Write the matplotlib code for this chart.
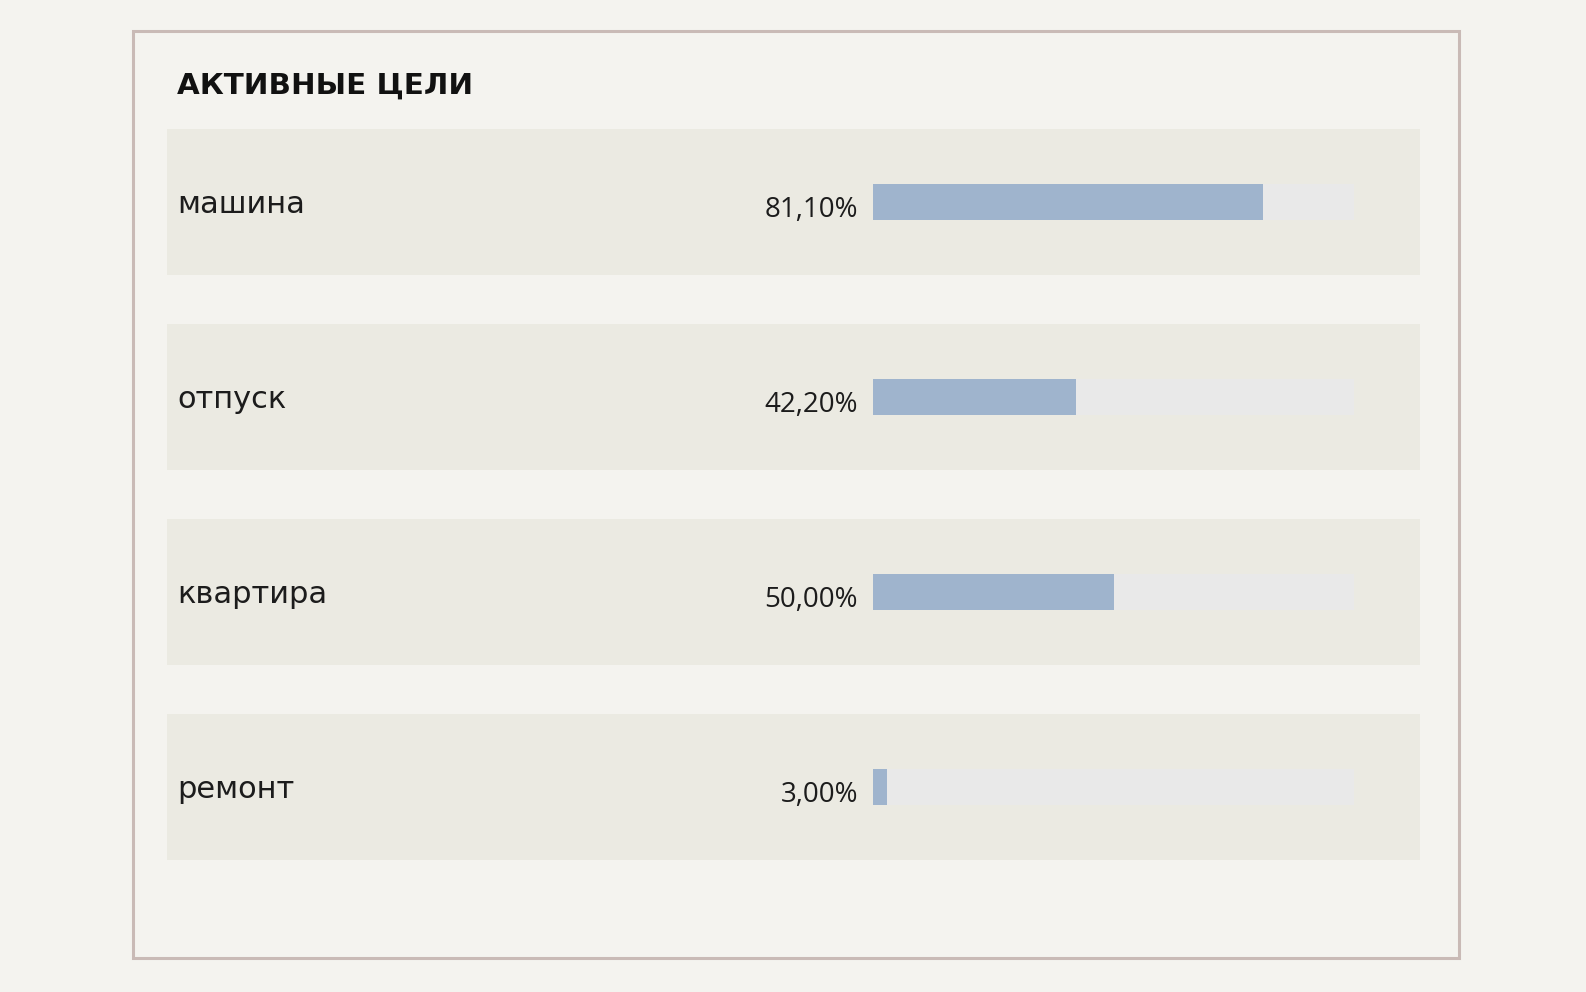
import matplotlib.pyplot as plt
from matplotlib.patches import Rectangle

# data
goals = ["машина", "отпуск", "квартира", "ремонт"]
progress = [81.10, 42.20, 50.00, 3.00]
title = "АКТИВНЫЕ ЦЕЛИ"

W, H = 1586, 992
bg = "#f4f3ef"
row_bg = "#ebeae2"
track = "#e9e9e9"
fill = "#9fb4cd"
border = "#c9bab6"
ink = "#1c1c1c"

plt.rcParams['font.family'] = ['DejaVu Sans']

fig = plt.figure(figsize=(W / 100, H / 100), dpi=100, facecolor=bg)

# layout layer in pixel coords
base = fig.add_axes([0, 0, 1, 1])
base.set_xlim(0, W)
base.set_ylim(H, 0)
base.axis('off')
base.add_patch(Rectangle((132.5, 31), 1326, 927, facecolor=bg,
                         edgecolor=border, linewidth=2.2))
base.text(177, 94, title, fontsize=21.2, fontweight='bold', color='#111111',
          ha='left', va='baseline')

row_top0 = 129
row_step = 195
row_h = 146
for i in range(len(goals)):
    base.add_patch(Rectangle((167, row_top0 + i * row_step), 1253, row_h,
                             facecolor=row_bg, edgecolor='none'))

# bars layer
x0, x1 = 873, 1354
yc0 = row_top0 + row_h / 2
y_top = yc0 - row_step / 2
y_bot = yc0 + (len(goals) - 0.5) * row_step
ax = fig.add_axes([x0 / W, 1 - y_bot / H, (x1 - x0) / W, (y_bot - y_top) / H])
ax.set_xlim(0, 100)
ax.set_ylim(len(goals) - 0.5, -0.5)
ax.axis('off')
ax.patch.set_alpha(0)

pos = list(range(len(goals)))
bh = 36 / row_step
ax.barh(pos, [100] * len(goals), height=bh, color=track)
ax.barh(pos, progress, height=bh, color=fill)

for i, (g, v) in enumerate(zip(goals, progress)):
    ax.annotate(f"{v:.2f}%".replace('.', ','), xy=(0, i), xytext=(-15, -15),
                textcoords='offset pixels', ha='right', va='baseline',
                fontsize=20, color=ink, family=['Open Sans', 'DejaVu Sans'])
    ax.annotate(g, xy=(0, i), xytext=(177 - x0, -11),
                textcoords='offset pixels', ha='left', va='baseline',
                fontsize=22, color=ink)

fig.savefig("out.png", dpi=100, facecolor=bg)
